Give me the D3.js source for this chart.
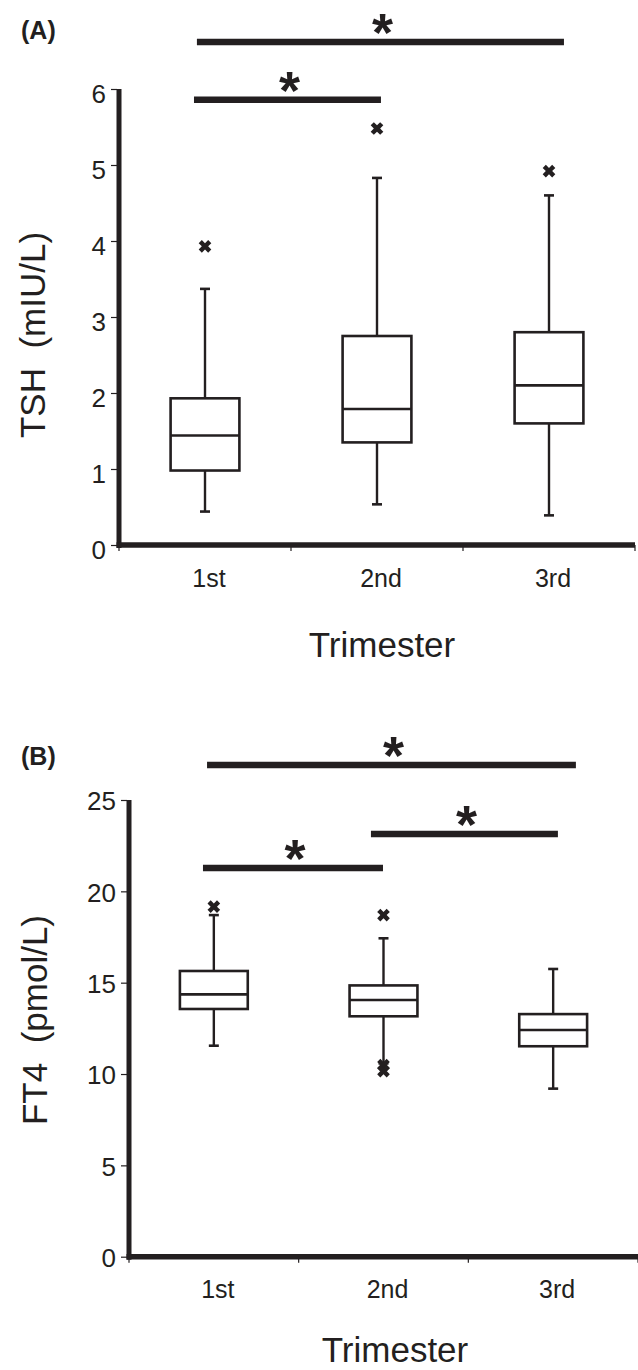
<!DOCTYPE html>
<html><head><meta charset="utf-8">
<script src="https://cdn.jsdelivr.net/npm/d3@7"></script>
<style>
body{margin:0;background:#fff}
text{font-family:"Liberation Sans",Arial,Helvetica,sans-serif;fill:#231f20}
</style>
</head><body>
<svg id="chart" width="638" height="1370"></svg>
<script>
// ---------- data ----------
const categories = ["1st", "2nd", "3rd"];

// Panel A: TSH (mIU/L)
const tshWhiskerLow  = [0.44, 0.535, 0.39];
const tshQ1          = [0.98, 1.35, 1.60];
const tshMedian      = [1.44, 1.79, 2.10];
const tshQ3          = [1.93, 2.75, 2.80];
const tshWhiskerHigh = [3.37, 4.83, 4.60];
const tshOutliers    = [[3.93], [5.48], [4.92]];
const tshTicks       = [0, 1, 2, 3, 4, 5, 6];
// significance bars: from/to category, level in data units, end offsets in band widths
const tshSig = [
  {from: "1st", to: "3rd", level: 6.62, x0: -0.047, x1: 0.087},
  {from: "1st", to: "2nd", level: 5.86, x0: -0.064, x1: 0.023}
];

// Panel B: FT4 (pmol/L)
const ft4WhiskerLow  = [11.55, 10.58, 9.20];
const ft4Q1          = [13.56, 13.16, 11.52];
const ft4Median      = [14.36, 14.05, 12.41];
const ft4Q3          = [15.64, 14.85, 13.28];
const ft4WhiskerHigh = [18.70, 17.43, 15.75];
const ft4Outliers    = [[19.16], [18.70, 10.49, 10.16], []];
const ft4Ticks       = [0, 5, 10, 15, 20, 25];
const ft4Sig = [
  {from: "1st", to: "3rd", level: 26.91, x0: -0.040, x1: 0.134},
  {from: "2nd", to: "3rd", level: 23.14, x0: -0.074, x1: 0.028},
  {from: "1st", to: "2nd", level: 21.28, x0: -0.064, x1: -0.003}
];

// ---------- drawing ----------
const svg = d3.select("#chart");
const INK = "#231f20";

function panel(opt) {
  const g = svg.append("g");
  const x = d3.scaleBand().domain(categories).range(opt.xRange).padding(0);
  const y = d3.scaleLinear().domain(opt.yDomain).range(opt.yRange);
  const bw = x.bandwidth();
  const cx = c => x(c) + bw / 2;
  const boxW = bw * 0.4;
  const capW = 10;

  // y axis ticks + labels
  const ya = d3.axisLeft(y).tickValues(opt.ticks).tickSize(6).tickPadding(5).tickFormat(d3.format("d"));
  const yg = g.append("g").attr("transform", `translate(${opt.xRange[0] - 2},0)`).call(ya);
  yg.select(".domain").remove();
  yg.selectAll(".tick line").attr("stroke", INK).attr("stroke-width", 1.2);
  yg.selectAll(".tick text").attr("font-size", opt.tickFont).attr("fill", INK)
    .attr("dy", opt.tickDy).style("font-family", '"Liberation Sans",Arial,sans-serif');

  // x axis: labels at centers, small ticks at band edges
  const xa = d3.axisBottom(x).tickSize(0).tickPadding(0);
  const xg = g.append("g").attr("transform", `translate(0,${opt.yRange[0]})`).call(xa);
  xg.select(".domain").remove();
  xg.selectAll(".tick text").attr("font-size", opt.xTickFont).attr("fill", INK)
    .attr("dy", 0).attr("y", opt.xLabelOffset).attr("dx", 4)
    .style("font-family", '"Liberation Sans",Arial,sans-serif');
  const edges = categories.map(c => x(c)).concat([x.range()[1]]);
  g.selectAll("line.xedge").data(edges).join("line").attr("class", "xedge")
    .attr("x1", d => d).attr("x2", d => d)
    .attr("y1", opt.yRange[0]).attr("y2", opt.yRange[0] + 6)
    .attr("stroke", INK).attr("stroke-width", 1.2);

  // thick axis lines
  g.append("line").attr("x1", opt.xRange[0]).attr("x2", opt.xRange[0])
    .attr("y1", y(opt.yDomain[0]) + 3).attr("y2", y(opt.yDomain[1]))
    .attr("stroke", INK).attr("stroke-width", 5);
  g.append("line").attr("x1", opt.xRange[0] - 2.5).attr("x2", x.range()[1])
    .attr("y1", y(opt.yDomain[0])).attr("y2", y(opt.yDomain[0]))
    .attr("stroke", INK).attr("stroke-width", 5.5);

  // boxes
  const rows = categories.map((c, i) => ({
    c, lo: opt.lo[i], q1: opt.q1[i], med: opt.med[i], q3: opt.q3[i], hi: opt.hi[i], out: opt.out[i]
  }));
  const bg = g.selectAll("g.box").data(rows).join("g").attr("class", "box");
  bg.append("line").attr("x1", d => cx(d.c)).attr("x2", d => cx(d.c))
    .attr("y1", d => y(d.hi)).attr("y2", d => y(d.q3)).attr("stroke", INK).attr("stroke-width", 2.4);
  bg.append("line").attr("x1", d => cx(d.c)).attr("x2", d => cx(d.c))
    .attr("y1", d => y(d.q1)).attr("y2", d => y(d.lo)).attr("stroke", INK).attr("stroke-width", 2.4);
  bg.append("line").attr("x1", d => cx(d.c) - capW / 2).attr("x2", d => cx(d.c) + capW / 2)
    .attr("y1", d => y(d.hi)).attr("y2", d => y(d.hi)).attr("stroke", INK).attr("stroke-width", 2.6);
  bg.append("line").attr("x1", d => cx(d.c) - capW / 2).attr("x2", d => cx(d.c) + capW / 2)
    .attr("y1", d => y(d.lo)).attr("y2", d => y(d.lo)).attr("stroke", INK).attr("stroke-width", 2.6);
  bg.append("rect").attr("x", d => cx(d.c) - boxW / 2).attr("width", boxW)
    .attr("y", d => y(d.q3)).attr("height", d => y(d.q1) - y(d.q3))
    .attr("fill", "#fff").attr("stroke", INK).attr("stroke-width", 2.6);
  bg.append("line").attr("x1", d => cx(d.c) - boxW / 2).attr("x2", d => cx(d.c) + boxW / 2)
    .attr("y1", d => y(d.med)).attr("y2", d => y(d.med)).attr("stroke", INK).attr("stroke-width", 2.6);

  // outliers
  const sym = d3.symbol().type(d3.symbolCross).size(100);
  bg.each(function(d) {
    d3.select(this).selectAll("path.out").data(d.out).join("path").attr("class", "out")
      .attr("d", sym)
      .attr("transform", v => `translate(${cx(d.c)},${y(v)}) rotate(45)`)
      .attr("fill", INK);
  });

  // significance bars
  opt.sig.forEach(s => {
    const xa0 = cx(s.from) + s.x0 * bw, xa1 = cx(s.to) + s.x1 * bw;
    const yy = y(s.level);
    g.append("line").attr("x1", xa0).attr("x2", xa1).attr("y1", yy).attr("y2", yy)
      .attr("stroke", INK).attr("stroke-width", 6.5);
    g.append("text").attr("x", (xa0 + xa1) / 2 + 2).attr("y", yy + 9)
      .attr("text-anchor", "middle").attr("font-size", 54).attr("font-weight", "bold")
      .text("*");
  });

  // titles
  g.append("text").attr("x", opt.xTitle[0]).attr("y", opt.xTitle[1]).attr("text-anchor", "middle")
    .attr("font-size", 35).text("Trimester");
  g.append("text").attr("transform", `translate(${opt.yTitle[0]},${opt.yTitle[1]}) rotate(-90)`)
    .attr("text-anchor", "middle").attr("font-size", 35).style("white-space", "pre")
    .text(opt.yLabel);
  g.append("text").attr("x", 21).attr("y", opt.tagY).attr("font-size", 25).attr("font-weight", "bold")
    .text(opt.tag);
}

panel({
  xRange: [119, 635], yDomain: [0, 6], yRange: [545, 89], ticks: tshTicks,
  tickFont: 26, tickDy: "0.5em", xTickFont: 25, xLabelOffset: 42,
  lo: tshWhiskerLow, q1: tshQ1, med: tshMedian, q3: tshQ3, hi: tshWhiskerHigh, out: tshOutliers,
  sig: tshSig, xTitle: [382, 657], yTitle: [45, 335], yLabel: "TSH  (mIU/L)", tag: "(A)", tagY: 39
});
panel({
  xRange: [129, 638], yDomain: [0, 25], yRange: [1256.7, 800], ticks: ft4Ticks,
  tickFont: 26, tickDy: "0.38em", xTickFont: 25, xLabelOffset: 41,
  lo: ft4WhiskerLow, q1: ft4Q1, med: ft4Median, q3: ft4Q3, hi: ft4WhiskerHigh, out: ft4Outliers,
  sig: ft4Sig, xTitle: [395, 1362], yTitle: [47, 1020], yLabel: "FT4  (pmol/L)", tag: "(B)", tagY: 765
});
</script>
</body></html>
